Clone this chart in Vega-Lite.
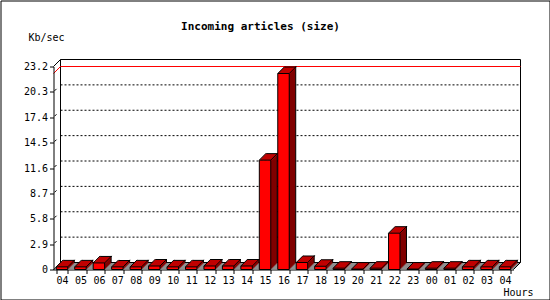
{
  "$schema": "https://vega.github.io/schema/vega-lite/v6.json",
  "width": 549,
  "height": 299,
  "autosize": {"type": "none"},
  "padding": {"left": 0.5, "top": 0.5, "right": 0.5, "bottom": 0.5},
  "background": "#ffffff",
  "config": {"view": {"stroke": "#000000", "strokeWidth": 1, "fill": "#ffffff"}},
  "title": {"text": "Incoming articles (size)", "font": "DejaVu Sans Mono", "fontSize": 11, "fontWeight": "bold", "color": "#000000", "anchor": "middle", "frame": "group", "orient": "top", "baseline": "middle", "offset": -37, "dx": -14.5},
  "datasets": {
    "bars": [
      {"i": 0, "hour": "04", "v": 0.3},
      {"i": 1, "hour": "05", "v": 0.3},
      {"i": 2, "hour": "06", "v": 0.75},
      {"i": 3, "hour": "07", "v": 0.3},
      {"i": 4, "hour": "08", "v": 0.3},
      {"i": 5, "hour": "09", "v": 0.4},
      {"i": 6, "hour": "10", "v": 0.3},
      {"i": 7, "hour": "11", "v": 0.3},
      {"i": 8, "hour": "12", "v": 0.4},
      {"i": 9, "hour": "13", "v": 0.4},
      {"i": 10, "hour": "14", "v": 0.4},
      {"i": 11, "hour": "15", "v": 12.5},
      {"i": 12, "hour": "16", "v": 22.4},
      {"i": 13, "hour": "17", "v": 0.8},
      {"i": 14, "hour": "18", "v": 0.37},
      {"i": 15, "hour": "19", "v": 0.15},
      {"i": 16, "hour": "20", "v": 0.05},
      {"i": 17, "hour": "21", "v": 0.15},
      {"i": 18, "hour": "22", "v": 4.15},
      {"i": 19, "hour": "23", "v": 0.05},
      {"i": 20, "hour": "00", "v": 0.15},
      {"i": 21, "hour": "01", "v": 0.15},
      {"i": 22, "hour": "02", "v": 0.3},
      {"i": 23, "hour": "03", "v": 0.3},
      {"i": 24, "hour": "04", "v": 0.3}
    ],
    "grid": [{"g": 2.9}, {"g": 5.8}, {"g": 8.7}, {"g": 11.6}, {"g": 14.5}, {"g": 17.4}, {"g": 20.3}],
    "maxline": [{"m": 22.4}],
    "one": [{}]
  },
  "resolve": {"scale": {"x": "independent", "y": "independent"}, "axis": {"x": "independent", "y": "independent"}},
  "layer": [
    {
      "data": {"name": "one"},
      "layer": [
        {
          "mark": {"type": "rect", "fill": "#ffffff", "stroke": "#000000", "strokeWidth": 1, "xOffset": 7, "x2Offset": 7, "yOffset": -7, "y2Offset": -7},
          "encoding": {
            "x": {"datum": 0, "type": "quantitative", "scale": {"domain": [0, 1], "range": [53, 513], "nice": false, "zero": false}, "axis": null},
            "x2": {"datum": 1},
            "y": {"datum": 0, "type": "quantitative", "scale": {"domain": [0, 23.2], "range": [269, 66], "nice": false, "zero": true}, "axis": null},
            "y2": {"datum": 23.2}
          }
        },
        {
          "data": {"name": "grid"},
          "mark": {"type": "rule", "color": "#000000", "strokeWidth": 1, "strokeDash": [2, 2], "xOffset": 7, "x2Offset": 7, "yOffset": -7},
          "encoding": {
            "x": {"datum": 0, "type": "quantitative"},
            "x2": {"datum": 1},
            "y": {"field": "g", "type": "quantitative", "axis": null}
          }
        },
        {
          "data": {"name": "grid"},
          "mark": {"type": "rule", "color": "#000000", "strokeWidth": 1, "xOffset": 1, "x2Offset": 3, "yOffset": -1, "y2Offset": -3},
          "encoding": {
            "x": {"datum": 0, "type": "quantitative"},
            "x2": {"datum": 0},
            "y": {"field": "g", "type": "quantitative", "axis": null},
            "y2": {"field": "g"}
          }
        },
        {
          "data": {"name": "maxline"},
          "mark": {"type": "rule", "color": "#ff0000", "strokeWidth": 1, "xOffset": 7, "x2Offset": 7, "yOffset": -7},
          "encoding": {
            "x": {"datum": 0, "type": "quantitative"},
            "x2": {"datum": 1},
            "y": {"field": "m", "type": "quantitative", "axis": null}
          }
        },
        {
          "data": {"name": "maxline"},
          "mark": {"type": "rule", "color": "#ff0000", "strokeWidth": 1, "x2Offset": 7, "y2Offset": -7},
          "encoding": {
            "x": {"datum": 0, "type": "quantitative"},
            "x2": {"datum": 0},
            "y": {"field": "m", "type": "quantitative", "axis": null},
            "y2": {"field": "m"}
          }
        },
        {
          "mark": {"type": "rule", "color": "#000000", "strokeWidth": 1, "x2Offset": 7, "y2Offset": -7},
          "encoding": {
            "x": {"datum": 0, "type": "quantitative"},
            "x2": {"datum": 0},
            "y": {"datum": 23.2, "type": "quantitative", "axis": null},
            "y2": {"datum": 23.2}
          }
        },
        {
          "mark": {"type": "rule", "color": "#000000", "strokeWidth": 1, "x2Offset": 7, "y2Offset": -7},
          "encoding": {
            "x": {"datum": 0, "type": "quantitative"},
            "x2": {"datum": 0},
            "y": {"datum": 0, "type": "quantitative", "axis": null},
            "y2": {"datum": 0}
          }
        },
        {"mark": {"type": "rule", "color": "#909090", "strokeWidth": 1, "xOffset": 1, "x2Offset": 1, "yOffset": -1}, "encoding": {"x": {"datum": 0, "type": "quantitative"}, "x2": {"datum": 1}, "y": {"datum": 0, "type": "quantitative", "axis": null}}},
        {"mark": {"type": "rule", "color": "#909090", "strokeWidth": 1, "xOffset": 2, "x2Offset": 2, "yOffset": -2}, "encoding": {"x": {"datum": 0, "type": "quantitative"}, "x2": {"datum": 1}, "y": {"datum": 0, "type": "quantitative", "axis": null}}},
        {"mark": {"type": "rule", "color": "#909090", "strokeWidth": 1, "xOffset": 3, "x2Offset": 3, "yOffset": -3}, "encoding": {"x": {"datum": 0, "type": "quantitative"}, "x2": {"datum": 1}, "y": {"datum": 0, "type": "quantitative", "axis": null}}},
        {"mark": {"type": "rule", "color": "#909090", "strokeWidth": 1, "xOffset": 4, "x2Offset": 4, "yOffset": -4}, "encoding": {"x": {"datum": 0, "type": "quantitative"}, "x2": {"datum": 1}, "y": {"datum": 0, "type": "quantitative", "axis": null}}},
        {"mark": {"type": "rule", "color": "#909090", "strokeWidth": 1, "xOffset": 5, "x2Offset": 5, "yOffset": -5}, "encoding": {"x": {"datum": 0, "type": "quantitative"}, "x2": {"datum": 1}, "y": {"datum": 0, "type": "quantitative", "axis": null}}},
        {"mark": {"type": "rule", "color": "#909090", "strokeWidth": 1, "xOffset": 6, "x2Offset": 6, "yOffset": -6}, "encoding": {"x": {"datum": 0, "type": "quantitative"}, "x2": {"datum": 1}, "y": {"datum": 0, "type": "quantitative", "axis": null}}},
        {
          "mark": {"type": "rule", "color": "#000000", "strokeWidth": 1, "x2Offset": 7, "y2Offset": -7},
          "encoding": {
            "x": {"datum": 1, "type": "quantitative"},
            "x2": {"datum": 1},
            "y": {"datum": 0, "type": "quantitative", "axis": null},
            "y2": {"datum": 0}
          }
        }
      ]
    },
    {
      "data": {"name": "bars"},
      "encoding": {
        "x": {
          "field": "i", "type": "ordinal",
          "scale": {"range": [53, 513], "paddingInner": 0.38, "paddingOuter": 0.15},
          "axis": {
            "orient": "bottom", "offset": -30, "zindex": 1,
            "domainColor": "#000000", "tickColor": "#000000", "tickSize": 4, "tickBand": "extent",
            "labelAngle": 0, "labelFont": "DejaVu Sans Mono", "labelFontSize": 10, "labelColor": "#000000", "labelPadding": 2,
            "labelExpr": "['04','05','06','07','08','09','10','11','12','13','14','15','16','17','18','19','20','21','22','23','00','01','02','03','04'][datum.value]",
            "title": "Hours", "titleFont": "DejaVu Sans Mono", "titleFontSize": 10, "titleFontWeight": "normal", "titleColor": "#000000",
            "titleAlign": "right", "titleBaseline": "middle", "titleX": 532.5, "titleY": 22.5, "titleAnchor": null
          }
        },
        "y": {
          "field": "v", "type": "quantitative",
          "scale": {"domain": [0, 23.2], "range": [269, 66], "nice": false, "zero": true},
          "axis": {
            "orient": "left", "offset": -53, "zindex": 1, "grid": false,
            "values": [0, 2.9, 5.8, 8.7, 11.6, 14.5, 17.4, 20.3, 23.2],
            "labelExpr": "datum.value == 0 ? '0' : format(datum.value, '.1f')",
            "domainColor": "#000000", "tickColor": "#000000", "tickSize": 4,
            "labelFont": "DejaVu Sans Mono", "labelFontSize": 10, "labelColor": "#000000", "labelPadding": 2,
            "title": "Kb/sec", "titleFont": "DejaVu Sans Mono", "titleFontSize": 10, "titleFontWeight": "normal", "titleColor": "#000000",
            "titleAngle": 0, "titleAlign": "left", "titleBaseline": "middle", "titleX": -25.5, "titleY": 36.5, "titleAnchor": null
          }
        }
      },
      "layer": [
        {"mark": {"type": "rule", "color": "#800000", "strokeWidth": 2, "xOffset": 6.22, "yOffset": -1, "y2Offset": -1}, "encoding": {"y2": {"datum": 0}}},
        {"mark": {"type": "rule", "color": "#800000", "strokeWidth": 2, "xOffset": 7.22, "yOffset": -2, "y2Offset": -2}, "encoding": {"y2": {"datum": 0}}},
        {"mark": {"type": "rule", "color": "#800000", "strokeWidth": 2, "xOffset": 8.22, "yOffset": -3, "y2Offset": -3}, "encoding": {"y2": {"datum": 0}}},
        {"mark": {"type": "rule", "color": "#800000", "strokeWidth": 2, "xOffset": 9.22, "yOffset": -4, "y2Offset": -4}, "encoding": {"y2": {"datum": 0}}},
        {"mark": {"type": "rule", "color": "#800000", "strokeWidth": 2, "xOffset": 10.22, "yOffset": -5, "y2Offset": -5}, "encoding": {"y2": {"datum": 0}}},
        {"mark": {"type": "rule", "color": "#800000", "strokeWidth": 2, "xOffset": 11.22, "yOffset": -6, "y2Offset": -6}, "encoding": {"y2": {"datum": 0}}},
        {"mark": {"type": "rule", "color": "#000000", "strokeWidth": 1, "xOffset": 12.22, "yOffset": -7, "y2Offset": -7}, "encoding": {"y2": {"datum": 0}}},
        {"mark": {"type": "tick", "orient": "horizontal", "size": 11.45, "thickness": 2, "color": "#c00000", "opacity": 1, "xOffset": 1, "yOffset": -0.5}},
        {"mark": {"type": "tick", "orient": "horizontal", "size": 11.45, "thickness": 2, "color": "#c00000", "opacity": 1, "xOffset": 2, "yOffset": -1.5}},
        {"mark": {"type": "tick", "orient": "horizontal", "size": 11.45, "thickness": 2, "color": "#c00000", "opacity": 1, "xOffset": 3, "yOffset": -2.5}},
        {"mark": {"type": "tick", "orient": "horizontal", "size": 11.45, "thickness": 2, "color": "#c00000", "opacity": 1, "xOffset": 4, "yOffset": -3.5}},
        {"mark": {"type": "tick", "orient": "horizontal", "size": 11.45, "thickness": 2, "color": "#c00000", "opacity": 1, "xOffset": 5, "yOffset": -4.5}},
        {"mark": {"type": "tick", "orient": "horizontal", "size": 11.45, "thickness": 2, "color": "#c00000", "opacity": 1, "xOffset": 6, "yOffset": -5.5}},
        {"mark": {"type": "tick", "orient": "horizontal", "size": 11.45, "thickness": 1, "color": "#000000", "opacity": 1, "xOffset": 7, "yOffset": -6.5}},
        {"mark": {"type": "rule", "color": "#000000", "strokeWidth": 1, "xOffset": -5.72, "x2Offset": 1.28, "y2Offset": -7}, "encoding": {"x2": {"field": "i"}, "y2": {"field": "v"}}},
        {"mark": {"type": "rule", "color": "#000000", "strokeWidth": 1, "xOffset": 5.72, "x2Offset": 12.72, "y2Offset": -7}, "encoding": {"x2": {"field": "i"}, "y2": {"field": "v"}}},
        {"mark": {"type": "bar", "color": "#ff0000", "stroke": "#000000", "strokeWidth": 1}}
      ]
    }
  ]
}
